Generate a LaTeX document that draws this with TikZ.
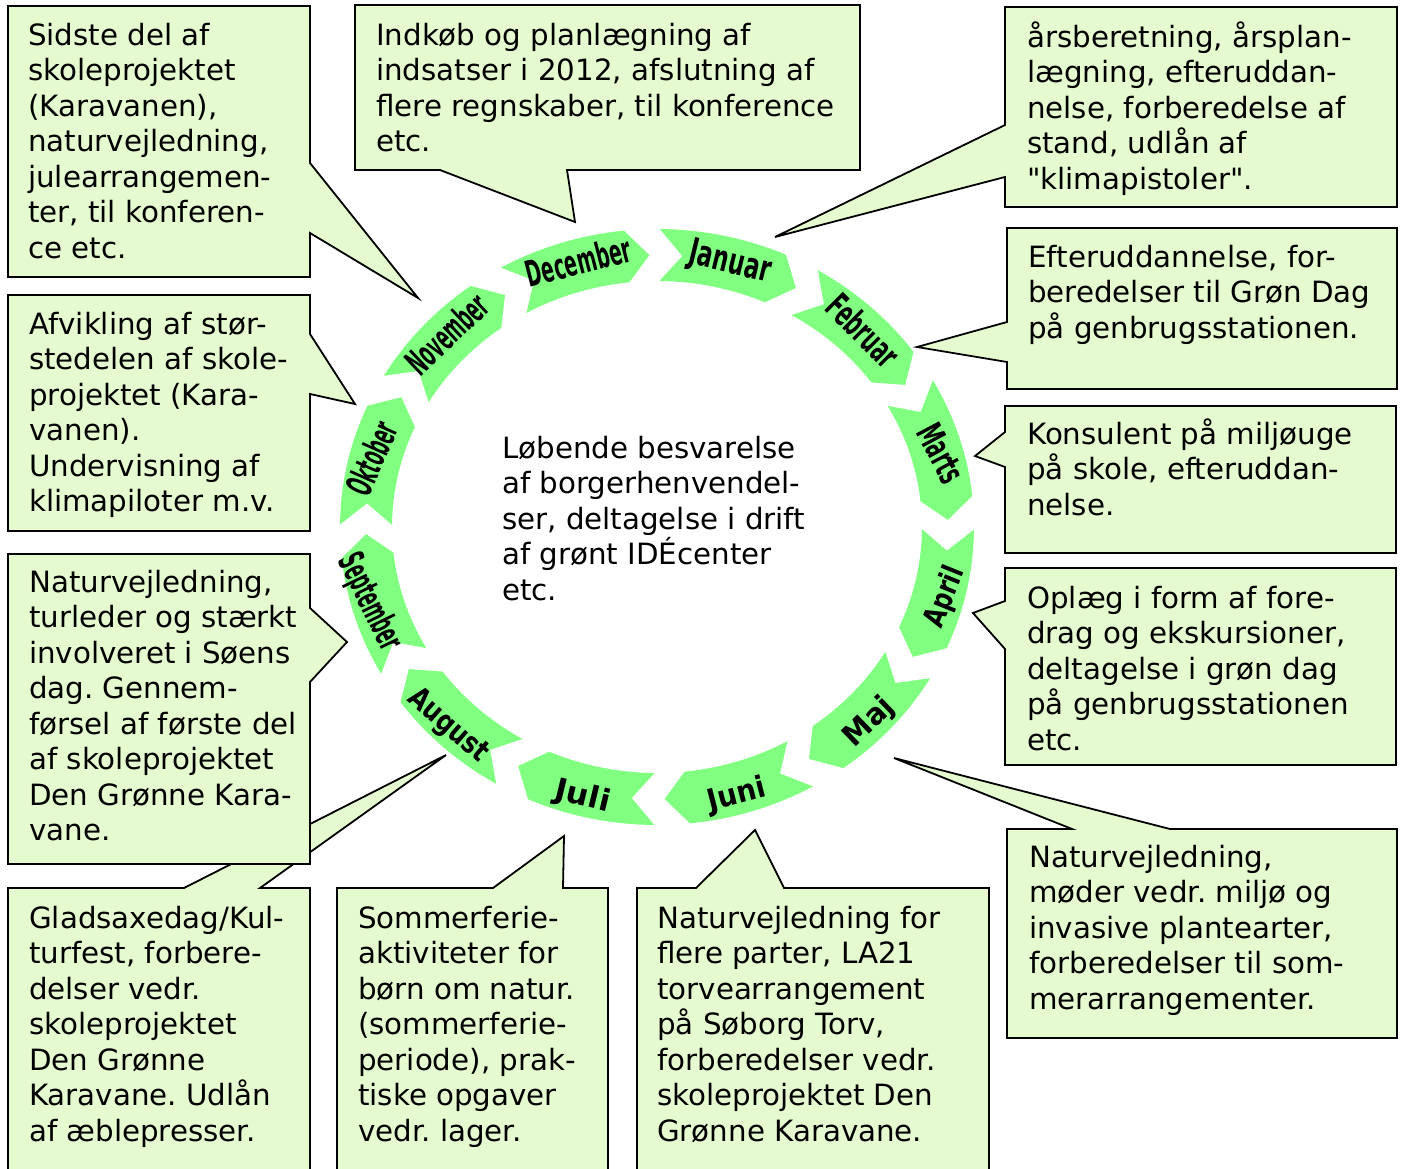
\documentclass[tikz,border=0pt]{standalone}
\usepackage{fontspec}
\setmainfont{DejaVu Sans}[Ligatures=TeXOff]
\definecolor{boxfill}{RGB}{230,250,208}
\definecolor{arrowgreen}{RGB}{128,255,128}
\newcommand{\fst}{\rule{0pt}{26pt}}
\frenchspacing
\begin{document}
\begin{tikzpicture}[x=1pt,y=-1pt,
  callout/.style={draw=black, line width=1.8pt, fill=boxfill, line join=miter},
  ctext/.style={anchor=north west, inner sep=0pt, align=left, font=\fontsize{29.3}{35.5}\selectfont},
  mtext/.style={inner sep=0pt, text depth=0pt}]
\useasboundingbox (0,0) rectangle (1402,1169);
\fill[white] (0,0) rectangle (1402,1169);

% month arrows around the ellipse
\foreach \k/\nm/\xs/\rot/\fs in {0/Januar/0.63/-13.6/36, 1/Februar/0.54/-45/36, 2/Marts/0.53/-62/36,
  3/April/0.78/68/30, 4/Maj/0.95/44/30, 5/Juni/0.92/14.5/30, 6/Juli/1.05/-13.6/30, 7/August/0.8/-41/30,
  8/September/0.46/-64/36, 9/Oktober/0.46/66/36, 10/November/0.47/43.5/36, 11/December/0.52/14.5/36} {
  \pgfmathsetmacro\aA{89.5-30*\k}
  \pgfmathsetmacro\aB{\aA-23.5}
  \pgfmathsetmacro\aT{\aA-28}
  \pgfmathsetmacro\aN{\aA-4.5}
  \pgfmathsetmacro\aM{\aA-14}
  \fill[arrowgreen] plot[domain=\aA:\aB, samples=25] ({657+317*cos(\x)},{527-298*sin(\x)})
     -- ({657+291*cos(\aT)},{527-272*sin(\aT)})
     -- plot[domain=\aB:\aA, samples=25] ({657+265*cos(\x)},{527-246*sin(\x)})
     -- ({657+291*cos(\aN)},{527-272*sin(\aN)}) -- cycle;
  \node[mtext, rotate=\rot, font=\bfseries\fontsize{\fs}{\fs}\selectfont] (m\k) at ({657+295*cos(\aM)},{527-276*sin(\aM)}) {\scalebox{\xs}[1]{\nm}};
}

% callouts
\draw[callout] (8,6) -- (310,6) -- (310,163) -- (418,298) -- (310,233) -- (310,277) -- (8,277) -- cycle;
\node[ctext] (tA) at (28,45-26) {\fst Sidste del af\\skoleprojektet\\(Karavanen),\\naturvejledning,\\julearrangemen-\\ter, til konferen-\\ce etc.};

\draw[callout] (355,5) -- (860,5) -- (860,170) -- (567,170) -- (575,222) -- (440,170) -- (355,170) -- cycle;
\node[ctext] (tB) at (376,45-26) {\fst Indkøb og planlægning af\\indsatser i 2012, afslutning af\\flere regnskaber, til konference\\etc.};

\draw[callout] (1005,7) -- (1397,7) -- (1397,207) -- (1005,207) -- (1005,177) -- (775,237) -- (1005,125) -- cycle;
\node[ctext] (tC) at (1027,47-26) {\fst årsberetning, årsplan-\\lægning, efteruddan-\\nelse, forberedelse af\\stand, udlån af\\"klimapistoler".};

\draw[callout] (1007,228) -- (1397,228) -- (1397,389) -- (1007,389) -- (1007,362) -- (917,347) -- (1007,322) -- cycle;
\node[ctext] (tD) at (1028,267-26) {\fst Efteruddannelse, for-\\beredelser til Grøn Dag\\på genbrugsstationen.};

\draw[callout] (1005,406) -- (1396,406) -- (1396,553) -- (1005,553) -- (1005,467) -- (975,456) -- (1005,432) -- cycle;
\node[ctext] (tE) at (1027,444-26) {\fst Konsulent på miljøuge\\på skole, efteruddan-\\nelse.};

\draw[callout] (1005,568) -- (1396,568) -- (1396,765) -- (1005,765) -- (1005,649) -- (973,613) -- (1005,601) -- cycle;
\node[ctext] (tF) at (1027,608-26) {\fst Oplæg i form af fore-\\drag og ekskursioner,\\deltagelse i grøn dag\\på genbrugsstationen\\etc.};

\draw[callout] (1007,829) -- (1072,829) -- (894,758) -- (1170,829) -- (1397,829) -- (1397,1038) -- (1007,1038) -- cycle;
\node[ctext] (tG) at (1029,867-26) {\fst Naturvejledning,\\møder vedr. miljø og\\invasive plantearter,\\forberedelser til som-\\merarrangementer.};

\draw[callout] (637,888) -- (696,888) -- (755,830) -- (784,888) -- (989,888) -- (989,1180) -- (637,1180) -- cycle;
\node[ctext] (tH) at (657,928-26) {\fst Naturvejledning for\\flere parter, LA21\\torvearrangement\\på Søborg Torv,\\forberedelser vedr.\\skoleprojektet Den\\Grønne Karavane.};

\draw[callout] (337,888) -- (493,888) -- (564,836) -- (563,888) -- (608,888) -- (608,1180) -- (337,1180) -- cycle;
\node[ctext] (tI) at (358,928-26) {\fst Sommerferie-\\aktiviteter for\\børn om natur.\\(sommerferie-\\periode), prak-\\tiske opgaver\\vedr. lager.};

\draw[callout] (8,888) -- (184,888) -- (446,755) -- (260,888) -- (310,888) -- (310,1180) -- (8,1180) -- cycle;
\node[ctext] (tJ) at (29,928-26) {\fst Gladsaxedag/Kul-\\turfest, forbere-\\delser vedr.\\skoleprojektet\\Den Grønne\\Karavane. Udlån\\af æblepresser.};

\draw[callout] (8,554) -- (310,554) -- (310,608) -- (347,642) -- (310,682) -- (310,864) -- (8,864) -- cycle;
\node[ctext] (tK) at (29,592-26) {\fst Naturvejledning,\\turleder og stærkt\\involveret i Søens\\dag. Gennem-\\førsel af første del\\af skoleprojektet\\Den Grønne Kara-\\vane.};

\draw[callout] (8,295) -- (310,295) -- (310,334) -- (355,404) -- (310,394) -- (310,531) -- (8,531) -- cycle;
\node[ctext] (tL) at (29,334-26) {\fst Afvikling af stør-\\stedelen af skole-\\projektet (Kara-\\vanen).\\Undervisning af\\klimapiloter m.v.};

% centre text
\node[ctext] (ctr) at (502,458-26) {\fst Løbende besvarelse\\af borgerhenvendel-\\ser, deltagelse i drift\\af grønt IDÉcenter\\etc.};
\end{tikzpicture}
\end{document}
